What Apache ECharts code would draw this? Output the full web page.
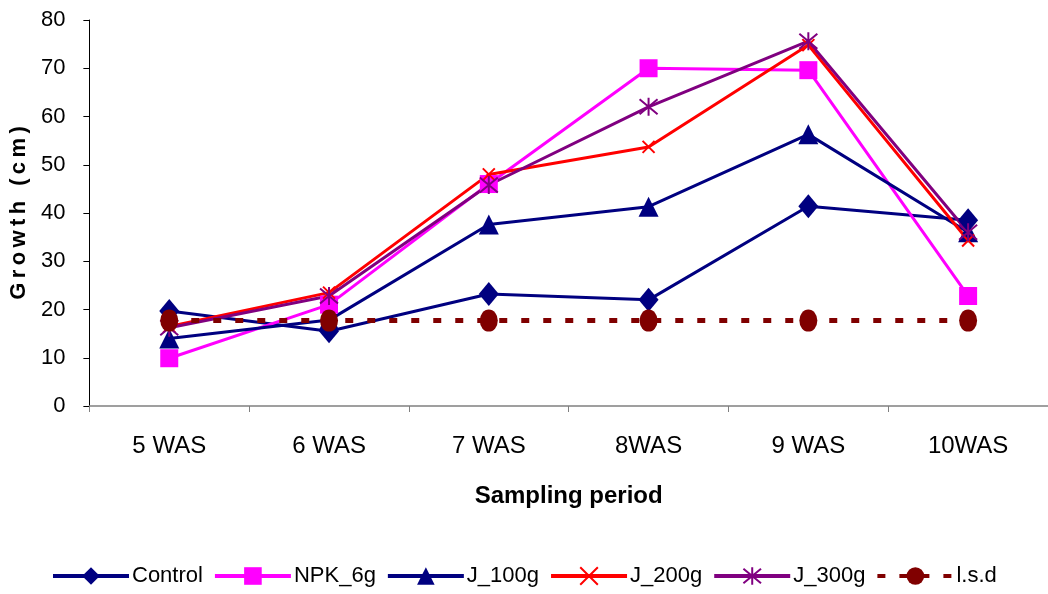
<!DOCTYPE html>
<html><head><meta charset="utf-8">
<script src="https://cdn.jsdelivr.net/npm/echarts@6/dist/echarts.min.js"></script>
<style>html,body{margin:0;padding:0;background:#fff}#c{width:1048px;height:594px}</style>
</head><body><div id="c"></div>
<script>
const categories = ['5 WAS','6 WAS','7 WAS','8WAS','9 WAS','10WAS'];
const control = [19.7, 15.5, 23.2, 22.0, 41.4, 38.5];
const npk6g   = [9.9, 21.0, 46.0, 70.0, 69.6, 22.8];
const j100g   = [14.0, 17.8, 37.6, 41.3, 56.3, 36.0];
const j200g   = [16.5, 23.5, 48.0, 53.7, 74.8, 34.3];
const j300g   = [16.2, 22.8, 45.8, 62.0, 75.6, 36.0];
const lsd     = [17.7, 17.7, 17.7, 17.7, 17.7, 17.7];
const yTicks  = [0,10,20,30,40,50,60,70,80];

const font = 'Liberation Sans, Arial, sans-serif';
function mk(name, data, color, symbol, size, extra) {
  return Object.assign({
    name, type:'line', data, symbol, symbolSize:size,
    lineStyle:{color, width:3},
    itemStyle:{color, borderColor:color, borderWidth:0},
    emphasis:{disabled:true}, animation:false
  }, extra||{});
}
const cross = 'path://M0,0L10,10M10,0L0,10';
const star = 'path://M5,-1L5,11M0,0L10,10M10,0L0,10';
const spaced = s => s.split('').join('\u2009');
const option = {
  backgroundColor:'#fff',
  animation:false,
  grid:{left:88, right:0, top:20, bottom:188},
  legend:{
    bottom:2, left:46, itemWidth:76, itemHeight:22, itemGap:10,
    lineStyle:{width:4},
    textStyle:{fontFamily:font, fontSize:22, color:'#000', padding:[0,0,0,-2]},
    data:['Control','NPK_6g','J_100g','J_200g','J_300g','l.s.d']
  },
  xAxis:{
    type:'category', data:categories, boundaryGap:true,
    axisLine:{lineStyle:{color:'#808080', width:1.5}},
    axisTick:{show:true, length:6, inside:false, lineStyle:{color:'#808080'}},
    axisLabel:{fontFamily:font, fontSize:24, color:'#000', margin:28},
    name:'Sampling period', nameLocation:'middle', nameGap:78,
    nameTextStyle:{fontFamily:font, fontSize:24, fontWeight:'bold', color:'#000'}
  },
  yAxis:{
    type:'value', min:0, max:80, interval:10,
    axisLine:{show:true, lineStyle:{color:'#000', width:1}},
    axisTick:{show:true, length:6, lineStyle:{color:'#000'}},
    splitLine:{show:false},
    axisLabel:{fontFamily:font, fontSize:22, color:'#000', margin:24,
      formatter:v=>yTicks.includes(v)?String(v):''},
    name:spaced('Growth (cm)'), nameLocation:'middle', nameGap:55,
    nameTextStyle:{fontFamily:font, fontSize:22, fontWeight:'bold', color:'#000'}
  },
  series:[
    mk('Control', control, '#000080', 'diamond', [20,24]),
    mk('NPK_6g', npk6g, '#FF00FF', 'rect', 18),
    mk('J_100g', j100g, '#000080', 'triangle', [20,20]),
    mk('J_200g', j200g, '#FF0000', cross, 12, {itemStyle:{color:'#FF0000', borderColor:'#FF0000', borderWidth:2}}),
    mk('J_300g', j300g, '#800080', star, 18, {itemStyle:{color:'#800080', borderColor:'#800080', borderWidth:2}}),
    mk('l.s.d', lsd, '#800000', 'circle', [18,22], {lineStyle:{color:'#800000', width:5, type:[8,14]}})
  ]
};
echarts.init(document.getElementById('c'), null, {renderer:'canvas'}).setOption(option);
</script></body></html>
